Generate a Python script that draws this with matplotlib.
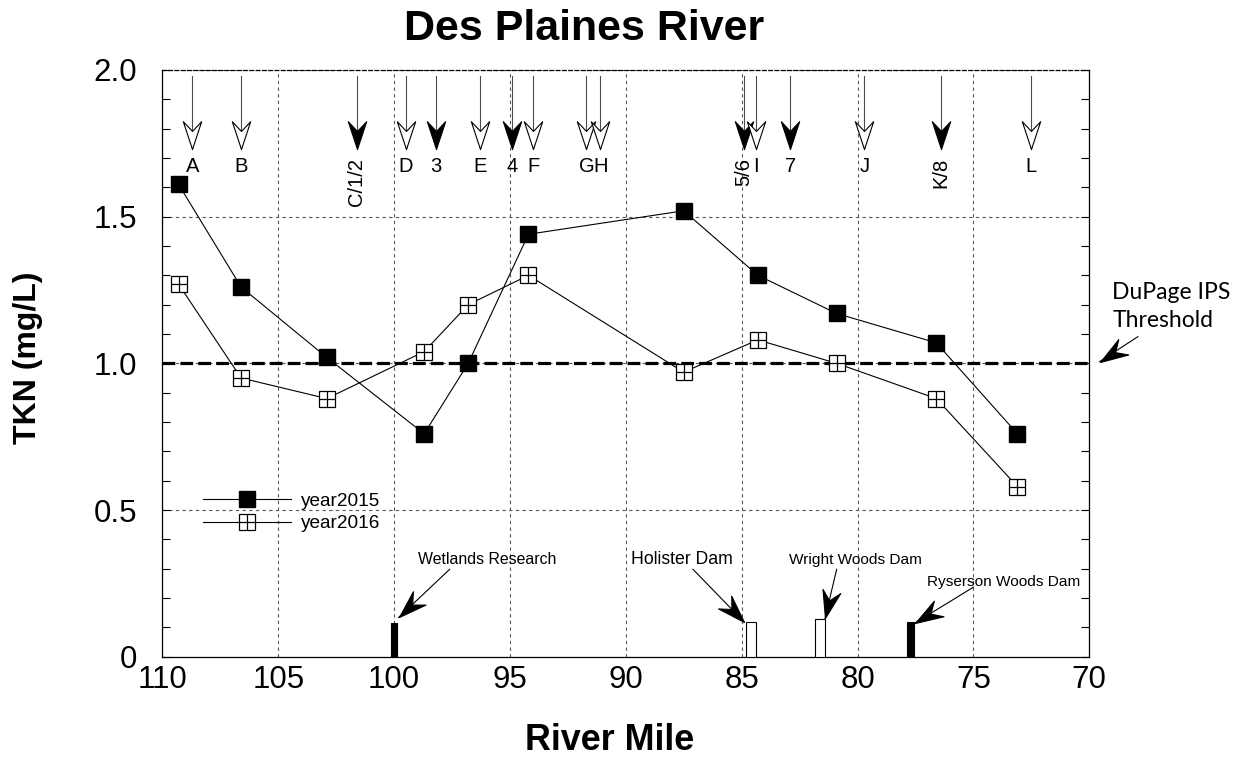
import numpy as np
import matplotlib.pyplot as plt
from matplotlib.path import Path
from matplotlib.markers import MarkerStyle
from matplotlib.transforms import Affine2D

plt.rcParams['font.family'] = ['Liberation Sans', 'DejaVu Sans']

# sampling sites (river mile) and TKN results
mile = [109.3, 106.6, 102.9, 98.7, 96.8, 94.2, 87.5, 84.3, 80.9, 76.6, 73.1]
tkn_2015 = [1.61, 1.26, 1.02, 0.76, 1.00, 1.44, 1.52, 1.30, 1.17, 1.07, 0.76]
tkn_2016 = [1.27, 0.95, 0.88, 1.04, 1.20, 1.30, 0.97, 1.08, 1.00, 0.88, 0.58]
threshold = 1.0

# outfalls / stations marked along the top
station_mile = [108.7, 106.6, 101.6, 99.5, 98.2, 96.3, 94.9, 94.0, 91.7, 91.1,
                84.9, 84.4, 82.9, 79.7, 76.4, 72.5]
station_label = ['A', 'B', 'C/1/2', 'D', '3', 'E', '4', 'F', 'G', 'H',
                 '5/6', 'I', '7', 'J', 'K/8', 'L']

# dams along the river
dam_mile = [100.0, 84.6, 81.6, 77.7]
dam_height = [0.114, 0.117, 0.127, 0.117]
dam_width = [0.29, 0.43, 0.43, 0.29]
dam_filled = [True, False, False, True]
dam_name = ['Wetlands Research', 'Holister Dam', 'Wright Woods Dam', 'Ryserson Woods Dam']
dam_text_xy = [(96.0, 0.332), (87.6, 0.332), (80.1, 0.330), (73.7, 0.256)]
dam_text_size = [11.4, 12.7, 11.1, 11.1]
dam_arrow_tail = [(97.6, 0.298), (87.1, 0.298), (80.9, 0.298), (75.0, 0.237)]
dam_arrow_tip = [(99.8, 0.134), (84.9, 0.119), (81.4, 0.131), (77.5, 0.116)]

fig = plt.figure(figsize=(12.42, 7.58), dpi=100)
ax = fig.add_axes([0.1307, 0.1336, 0.7463, 0.7741])
ax.set_xlim(110, 70)
ax.set_ylim(0, 2.0)

# notched arrowhead, tip at the origin pointing along +x
head = Path([(0, 0), (-1, 0.33), (-0.65, 0), (-1, -0.33), (0, 0)],
            [Path.MOVETO, Path.LINETO, Path.LINETO, Path.LINETO, Path.CLOSEPOLY])


def arrow(tail, tip, filled=True, color='black', lw=0.8, size=40):
    ax.plot([tail[0], tip[0]], [tail[1], tip[1]], color=color, lw=lw,
            zorder=4, clip_on=False)
    (x0, y0), (x1, y1) = ax.transData.transform([tail, tip])
    ang = np.degrees(np.arctan2(y1 - y0, x1 - x0))
    m = MarkerStyle(head, transform=Affine2D().rotate_deg(ang))
    ax.plot(tip[0], tip[1], marker=m, ms=size, ls='none',
            mfc='black' if filled else 'white', mec='black', mew=0.8,
            zorder=5, clip_on=False)


ax.grid(True, color='0.35', lw=0.8, ls=(0, (3, 3)))
ax.set_axisbelow(True)
ax.axhline(threshold, color='black', lw=2.3, dashes=(4, 1.6), zorder=2)

h15, = ax.plot(mile, tkn_2015, color='black', lw=0.8, marker='s', ms=12,
               mfc='black', mec='black', zorder=6)
h16, = ax.plot(mile, tkn_2016, color='black', lw=0.8, marker='s', ms=11.5,
               mfc='white', mec='black', mew=0.9, zorder=6)
h16p, = ax.plot(mile, tkn_2016, ls='none', marker='+', ms=11.5, mec='black',
                mew=0.9, zorder=7)

ax.legend([h15, (h16, h16p)], ['year2015', 'year2016'], loc='center left',
          bbox_to_anchor=(0.044, 0.246), frameon=False, borderpad=0,
          borderaxespad=0, handlelength=4.6, handletextpad=0.55,
          labelspacing=0.28, fontsize=13.7, numpoints=1)

# station arrows and labels
for sm, lab in zip(station_mile, station_label):
    filled = any(c.isdigit() for c in lab)
    arrow((sm, 1.978), (sm, 1.73), filled=filled, color='0.3')
    if '/' in lab:
        ax.text(sm, 1.70, lab, rotation=90, ha='center', va='top', fontsize=14.5)
    else:
        ax.text(sm, 1.672, lab, ha='center', va='center', fontsize=14.5)

# dams
ax.bar(dam_mile, dam_height, width=dam_width,
       color=['black' if f else 'white' for f in dam_filled],
       edgecolor='black', linewidth=0.8, zorder=3)
for name, xy, fs, tail, tip in zip(dam_name, dam_text_xy, dam_text_size,
                                   dam_arrow_tail, dam_arrow_tip):
    ax.text(xy[0], xy[1], name, ha='center', va='center', fontsize=fs)
    arrow(tail, tip)

# threshold callout outside the axes
ax.text(69.0, 1.194, 'DuPage IPS\nThreshold', family='Lato', fontsize=16.5,
        ha='left', va='center', linespacing=1.45, clip_on=False)
arrow((67.9, 1.091), (69.55, 1.006))

ax.set_xticks([110, 105, 100, 95, 90, 85, 80, 75, 70])
ax.set_xticklabels(['110', '105', '100', '95', '90', '85', '80', '75', '70'])
ax.set_yticks([0, 0.5, 1.0, 1.5, 2.0])
ax.set_yticklabels(['0', '0.5', '1.0', '1.5', '2.0'])
ax.set_yticks(np.arange(0, 2.01, 0.1), minor=True)
ax.tick_params(axis='x', length=0, labelsize=22.5, pad=6)
ax.tick_params(axis='y', which='both', direction='in', left=True, right=True,
               length=6, width=0.8, labelsize=22.5, pad=18)
for s in ax.spines.values():
    s.set_linewidth(0.9)
ax.spines['top'].set_linestyle((0, (3, 2)))

fig.text(0.470, 0.962, 'Des Plaines River', ha='center', va='center',
         fontsize=31, fontweight='bold')
fig.text(0.491, 0.023, 'River Mile', ha='center', va='center',
         fontsize=25.8, fontweight='bold')
fig.text(0.0225, 0.528, 'TKN (mg/L)', ha='center', va='center', rotation=90,
         fontsize=23, fontweight='bold')

fig.savefig('out.png', dpi=100)
